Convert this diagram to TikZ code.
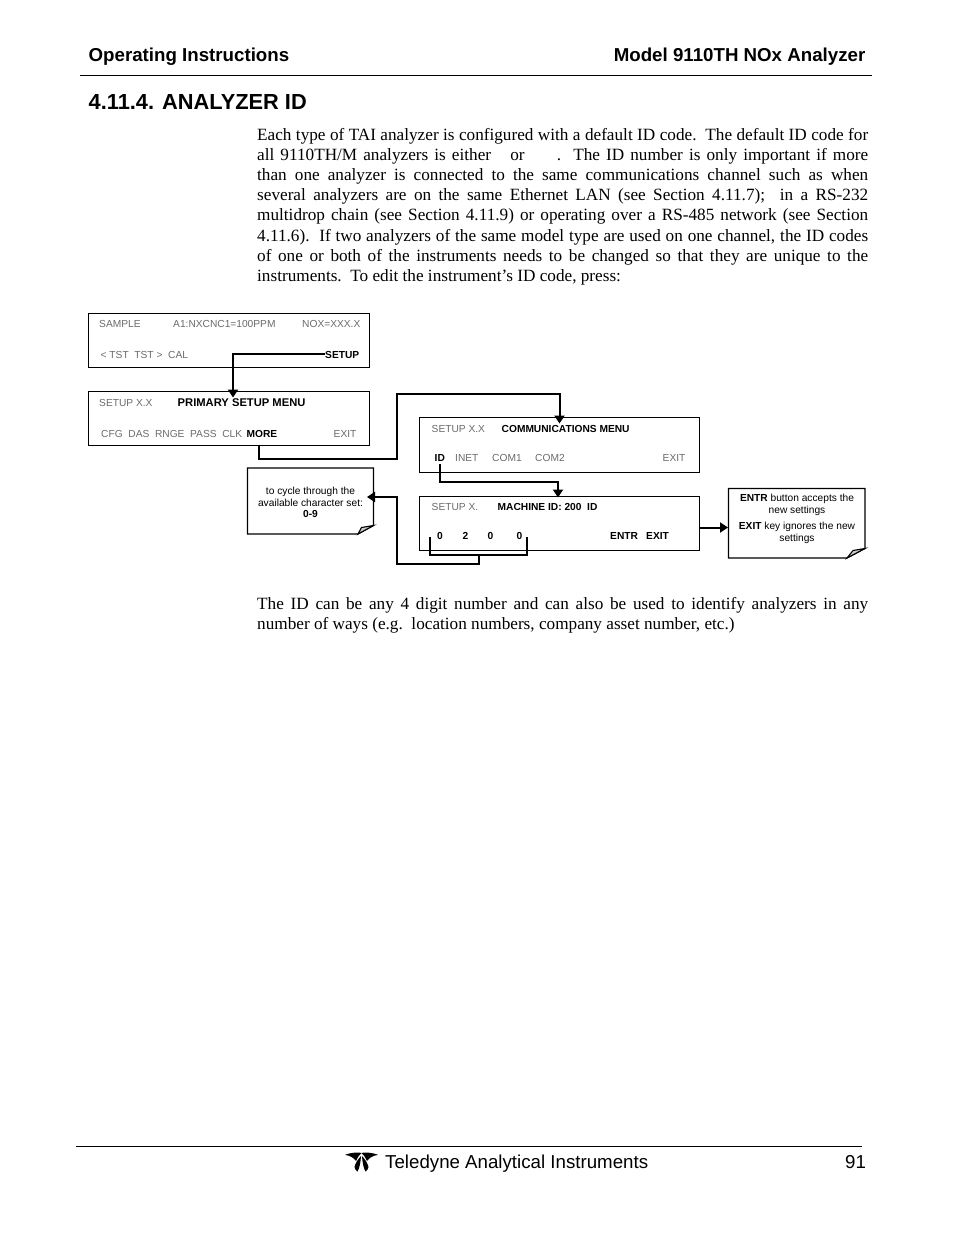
\documentclass[tikz,border=0pt]{standalone}
\usepackage{fontspec}
\setmainfont{Liberation Serif}
\newfontfamily\arialf{Liberation Sans}
\usetikzlibrary{arrows.meta}
\newcommand{\jl}[1]{\makebox[611pt][s]{#1}}
\tikzset{
  x=1pt,y=-1pt,
  body/.style={anchor=north west,inner sep=0pt,align=left,font=\fontsize{17.2}{20.15}\selectfont},
  head/.style={anchor=base west,inner sep=0pt,font=\arialf\bfseries\fontsize{18.7}{20}\selectfont},
  foot/.style={anchor=base west,inner sep=0pt,font=\arialf\fontsize{18.7}{20}\selectfont},
  screen/.style={draw=black,line width=1pt,fill=white,inner sep=0pt,outer sep=0pt,anchor=north west},
  gr/.style={anchor=base west,inner sep=0pt,text=black!58,font=\arialf\fontsize{10.2}{12}\selectfont},
  bd/.style={anchor=base west,inner sep=0pt,text=black,font=\arialf\bfseries\fontsize{10.2}{12}\selectfont},
  notetext/.style={inner sep=0pt,align=center,font=\arialf\fontsize{10.2}{11.8}\selectfont},
  notebox/.style={draw=black,line width=1.1pt,fill=white,line join=miter},
  fold/.style={draw=black,line width=1.1pt,fill=black!20},
  conn/.style={draw=black,line width=2pt},
  arr/.style={conn,-{Triangle[length=8pt,width=10pt]}},
}
\begin{document}
\begin{tikzpicture}
\useasboundingbox (0,0) rectangle (954,1235);
\fill[white] (0,0) rectangle (954,1235);

% header
\node[head] (h1) at (88.5,61) {Operating Instructions};
\node[head,anchor=base east] (h2) at (865.5,61) {Model 9110TH NOx Analyzer};
\coordinate (rl) at (80,75.5); \coordinate (rr) at (872,75.5);
\draw[line width=1.5pt] (rl) -- (rr);
\node[head,font=\arialf\bfseries\fontsize{21.8}{24}\selectfont] (title) at (88.5,109) {4.11.4. ANALYZER ID};

% paragraphs
\node[body] (p1) at (257,128) {%
\jl{Each type of TAI analyzer is configured with a default ID code.\ \ The default ID code for}\\
\jl{all 9110TH/M analyzers is either \hspace{7pt} or \hspace{26pt}.\ \ The ID number is only important if more}\\
\jl{than one analyzer is connected to the same communications channel such as when}\\
\jl{several analyzers are on the same Ethernet LAN (see Section 4.11.7);\ \ in a RS-232}\\
\jl{multidrop chain (see Section 4.11.9) or operating over a RS-485 network (see Section}\\
\jl{4.11.6).\ \ If two analyzers of the same model type are used on one channel, the ID codes}\\
\jl{of one or both of the instruments needs to be changed so that they are unique to the}\\
instruments.\ \ To edit the instrument’s ID code, press:};
\node[body] (p2) at (257,597) {%
\jl{The ID can be any 4 digit number and can also be used to identify analyzers in any}\\
number of ways (e.g.\ \ location numbers, company asset number, etc.)};

% screens
\node[screen,minimum width=280.5pt,minimum height=54pt] (s1) at (88.5,313.5) {};
\node[screen,minimum width=280.5pt,minimum height=53.5pt] (s2) at (88.5,391.5) {};
\node[screen,minimum width=280pt,minimum height=54.5pt] (s3) at (419.5,417.5) {};
\node[screen,minimum width=280pt,minimum height=54pt] (s4) at (419.5,496.5) {};

% notes
\coordinate (n1a) at (247.5,468); \coordinate (n1b) at (373.5,468);
\coordinate (n1c) at (373.5,525.5); \coordinate (n1d) at (358,534); \coordinate (n1e) at (247.5,534);
\coordinate (n1f) at (361.5,527.5);
\draw[notebox] (n1a) -- (n1b) -- (n1c) -- (n1d) -- (n1e) -- cycle;
\draw[fold] (n1d) -- (n1f) -- (n1c) -- cycle;
\coordinate (n2a) at (728.5,488.5); \coordinate (n2b) at (865,488.5);
\coordinate (n2c) at (865,548.5); \coordinate (n2d) at (847,558); \coordinate (n2e) at (728.5,558);
\coordinate (n2f) at (853,550.5);
\draw[notebox] (n2a) -- (n2b) -- (n2c) -- (n2d) -- (n2e) -- cycle;
\draw[fold] (n2d) -- (n2f) -- (n2c) -- cycle;
\node[notetext] (nt1) at (310.5,502.5) {to cycle through the\\available character set:\\\textbf{0-9}};
\node[notetext] (nt2a) at (797,504.5) {\textbf{ENTR} button accepts the\\new settings};
\node[notetext] (nt2b) at (797,533) {\textbf{EXIT} key ignores the new\\settings};

% screen texts
\node[gr] (t1) at (99,327) {SAMPLE};
\node[gr] (t2) at (173,327) {A1:NXCNC1=100PPM};
\node[gr] (t3) at (302,327) {NOX=XXX.X};
\node[gr] (t4) at (100.5,358) {< TST\ \ TST >\ \ CAL};
\node[bd] (setup) at (325,358) {SETUP};
\node[gr] (t5) at (99,406) {SETUP X.X};
\node[bd,font=\arialf\bfseries\fontsize{11.2}{12}\selectfont] (t6) at (177.5,406) {PRIMARY SETUP MENU};
\node[gr] (t7) at (101,437) {CFG\ \ DAS\ \ RNGE\ \ PASS\ \ CLK};
\node[bd] (more) at (246.5,437) {MORE};
\node[gr] (t8) at (333.5,437) {EXIT};
\node[gr] (t9) at (431.5,432) {SETUP X.X};
\node[bd] (t10) at (501.5,432) {COMMUNICATIONS MENU};
\node[bd] (idk) at (434.5,461) {ID};
\node[gr] (t11) at (455,461) {INET};
\node[gr] (t12) at (492,461) {COM1};
\node[gr] (t13) at (535,461) {COM2};
\node[gr] (t14) at (662.5,461) {EXIT};
\node[gr] (t15) at (431.5,510) {SETUP X.};
\node[bd] (t16) at (497.5,510) {MACHINE ID: 200\ \ ID};
\node[bd] (d1) at (437,539) {0};
\node[bd] (d2) at (462.5,539) {2};
\node[bd] (d3) at (487.5,539) {0};
\node[bd] (d4) at (516.5,539) {0};
\node[bd] (entr) at (610,539) {ENTR};
\node[bd] (exit) at (646,539) {EXIT};

% connectors
\coordinate (a1) at (233,354); \coordinate (a2) at (233,397.5);
\draw[arr] (setup.west |- a1) -- (a1) -- (a2);
\coordinate (b0) at (259,444.5); \coordinate (b1) at (259,459); \coordinate (b2) at (397,459);
\coordinate (b3) at (397,394); \coordinate (b4) at (559.5,394); \coordinate (b5) at (559.5,423.5);
\draw[arr] (b0) -- (b1) -- (b2) -- (b3) -- (b4) -- (b5);
\coordinate (c0) at (439.5,464); \coordinate (c1) at (439.5,481.5); \coordinate (c2) at (558,481.5); \coordinate (c3) at (558,497.5);
\draw[arr] (c0) -- (c1) -- (c2) -- (c3);
\coordinate (d0) at (430,537); \coordinate (d5) at (430,555); \coordinate (d6) at (527,555); \coordinate (d7) at (527,537);
\draw[conn] (d0) -- (d5) -- (d6) -- (d7);
\coordinate (e0) at (479,555); \coordinate (e1) at (479,564); \coordinate (e2) at (397,564); \coordinate (e3) at (397,497); \coordinate (e4) at (367,497);
\draw[arr] (e0) -- (e1) -- (e2) -- (e3) -- (e4);
\coordinate (f1) at (728,527.5);
\draw[arr] (s4.east |- f1) -- (f1);

% footer
\coordinate (fl) at (76,1146.5); \coordinate (fr) at (862,1146.5);
\draw[line width=1pt] (fl) -- (fr);
\node[foot] (f91) at (845,1168) {91};
\node[foot] (finst) at (385,1168) {Teledyne Analytical Instruments};

% logo
\fill[black] (361.5,1153) .. controls (358,1152) and (352,1152.5) .. (345.5,1154.5) -- (345.5,1155) .. controls (350,1155.5) and (354,1158) .. (356,1161) .. controls (357,1158) and (359,1155) .. (361.5,1153) -- cycle;
\fill[black] (361.5,1153) .. controls (365,1152) and (371,1152.5) .. (377.5,1154.5) -- (377.5,1155) .. controls (373,1155.5) and (369,1158) .. (367,1161) .. controls (366,1158) and (364,1155) .. (361.5,1153) -- cycle;
\fill[black] (361,1156) .. controls (358,1159) and (355,1164) .. (354.5,1167) .. controls (355,1169) and (356,1171) .. (357.5,1171.5) .. controls (359.5,1168) and (360.5,1163) .. (361,1156) -- cycle;
\fill[black] (362,1156) .. controls (365,1159) and (368,1164) .. (368.5,1167) .. controls (368,1169) and (367,1171) .. (365.5,1171.5) .. controls (363.5,1168) and (362.5,1163) .. (362,1156) -- cycle;
\end{tikzpicture}
\end{document}
